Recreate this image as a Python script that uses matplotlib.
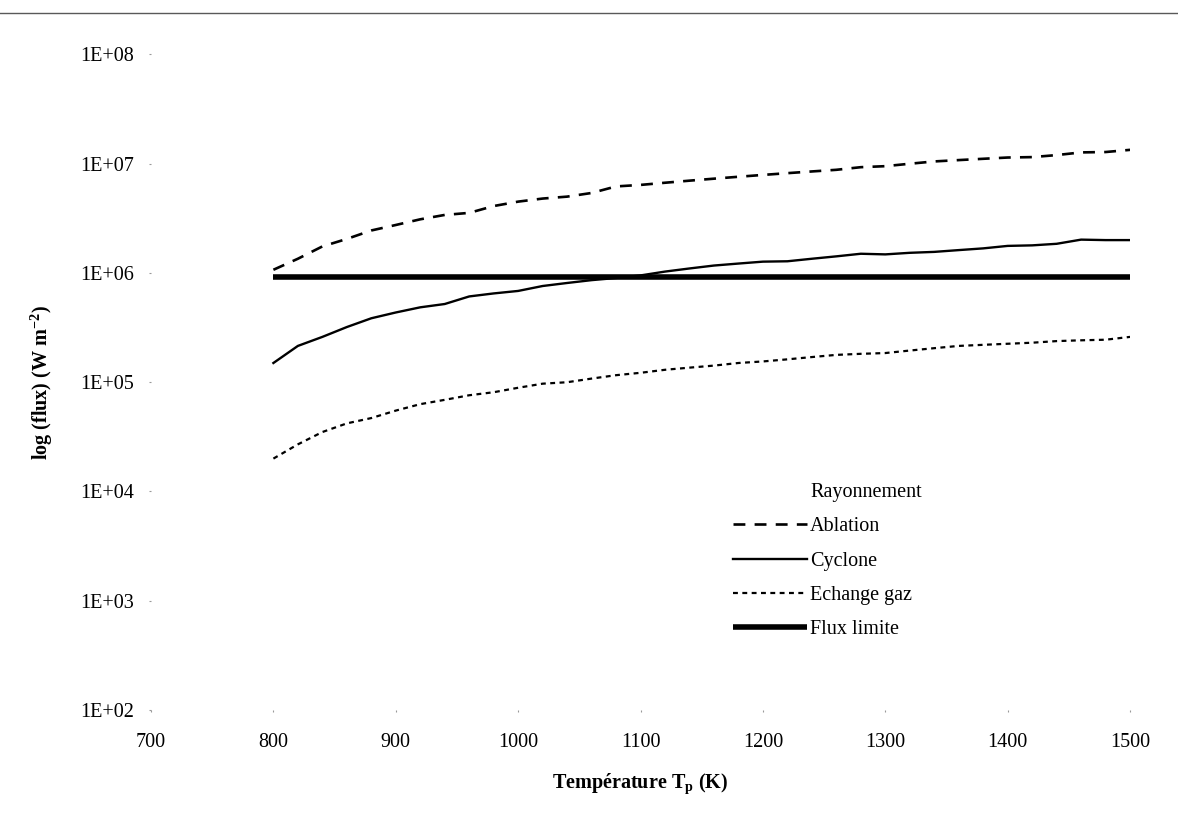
import matplotlib
matplotlib.use("Agg")
import matplotlib.pyplot as plt
import numpy as np
from matplotlib.lines import Line2D
from matplotlib.ticker import FixedLocator, FuncFormatter, NullLocator

plt.rcParams['font.family'] = ['Liberation Serif', 'DejaVu Serif']
plt.rcParams['mathtext.fontset'] = 'custom'
plt.rcParams['mathtext.rm'] = 'Liberation Serif'
plt.rcParams['mathtext.bf'] = 'Liberation Serif:bold'

# temperature de paroi (K), pas de 20 K
T = [800, 820, 840, 860, 880, 900, 920, 940, 960, 980,
     1000, 1020, 1040, 1060, 1080, 1100, 1120, 1140, 1160, 1180,
     1200, 1220, 1240, 1260, 1280, 1300, 1320, 1340, 1360, 1380,
     1400, 1420, 1440, 1460, 1480, 1500]

ablation = [1.07e6, 1.35e6, 1.75e6, 2.05e6, 2.45e6, 2.75e6, 3.1e6, 3.4e6, 3.55e6, 4.1e6,
            4.5e6, 4.8e6, 5.0e6, 5.4e6, 6.2e6, 6.4e6, 6.7e6, 7.0e6, 7.3e6, 7.6e6,
            7.9e6, 8.2e6, 8.5e6, 8.8e6, 9.3e6, 9.5e6, 1.0e7, 1.05e7, 1.08e7, 1.11e7,
            1.14e7, 1.15e7, 1.2e7, 1.27e7, 1.28e7, 1.34e7]

cyclone = [1.5e5, 2.15e5, 2.6e5, 3.2e5, 3.85e5, 4.35e5, 4.85e5, 5.2e5, 6.1e5, 6.5e5,
           6.85e5, 7.6e5, 8.1e5, 8.6e5, 9.0e5, 9.5e5, 1.03e6, 1.1e6, 1.17e6, 1.22e6,
           1.27e6, 1.28e6, 1.35e6, 1.42e6, 1.5e6, 1.48e6, 1.53e6, 1.56e6, 1.62e6, 1.68e6,
           1.77e6, 1.79e6, 1.85e6, 2.02e6, 2.0e6, 2.0e6]

echange_gaz = [2.0e4, 2.7e4, 3.5e4, 4.2e4, 4.7e4, 5.5e4, 6.3e4, 6.9e4, 7.6e4, 8.1e4,
               8.9e4, 9.7e4, 1.0e5, 1.08e5, 1.16e5, 1.22e5, 1.3e5, 1.36e5, 1.42e5, 1.5e5,
               1.55e5, 1.62e5, 1.7e5, 1.78e5, 1.82e5, 1.85e5, 1.95e5, 2.05e5, 2.15e5, 2.2e5,
               2.25e5, 2.3e5, 2.38e5, 2.42e5, 2.45e5, 2.6e5]

flux_limite = [9.2e5] * len(T)

xticks = [700, 800, 900, 1000, 1100, 1200, 1300, 1400, 1500]
yticks = [1e2, 1e3, 1e4, 1e5, 1e6, 1e7, 1e8]

fs = 14.5

fig = plt.figure(figsize=(11.78, 8.17), dpi=100)
ax = fig.add_axes([0.1282, 0.1310, 0.8311, 0.8023])

# serie vide juste pour la ligne "Rayonnement" de la legende
ax.plot([], [], linestyle='none', label='Rayonnement')
ax.plot(T, ablation, color='black', lw=1.9, dashes=(4.5, 3.5), label='Ablation')
ax.plot(T, cyclone, color='black', lw=1.7, label='Cyclone')
ax.plot(T, echange_gaz, color='black', lw=1.6, dashes=(2.2, 2.0), label='Echange gaz')
ax.plot(T, flux_limite, color='black', lw=4.0, solid_capstyle='butt', label='Flux limite')

ax.set_yscale('log')
ax.set_xlim(700, 1500)
ax.set_ylim(1e2, 1e8)
ax.xaxis.set_major_locator(FixedLocator(xticks))
ax.yaxis.set_major_locator(FixedLocator(yticks))
ax.yaxis.set_minor_locator(NullLocator())
ax.yaxis.set_major_formatter(FuncFormatter(lambda v, p: '1E+%02d' % int(round(np.log10(v)))))

for s in ax.spines.values():
    s.set_visible(False)
ax.tick_params(axis='both', length=1.5, width=0.8, color='0.6', labelsize=fs)
ax.tick_params(axis='x', pad=15)
ax.tick_params(axis='y', pad=11)

ax.set_xlabel(r'Température T$_{\mathbf{p}}$ (K)', fontsize=fs, fontweight='bold', va='top')
ax.xaxis.set_label_coords(0.5, -0.093)
ax.set_ylabel(r'log (flux) (W m$^{\mathbf{-2}}$)', fontsize=fs, fontweight='bold')
ax.yaxis.set_label_coords(-0.098, 0.5)

leg = ax.legend(loc='upper left', bbox_to_anchor=(0.594, 0.346), frameon=False,
                fontsize=fs, handlelength=3.7, handletextpad=0.15,
                labelspacing=0.75, borderpad=0, borderaxespad=0)

# trait horizontal en haut de la page
fig.add_artist(Line2D([0, 1], [0.984, 0.984], transform=fig.transFigure,
                      color='0.35', lw=1.0))

fig.savefig('out.png', dpi=100)
